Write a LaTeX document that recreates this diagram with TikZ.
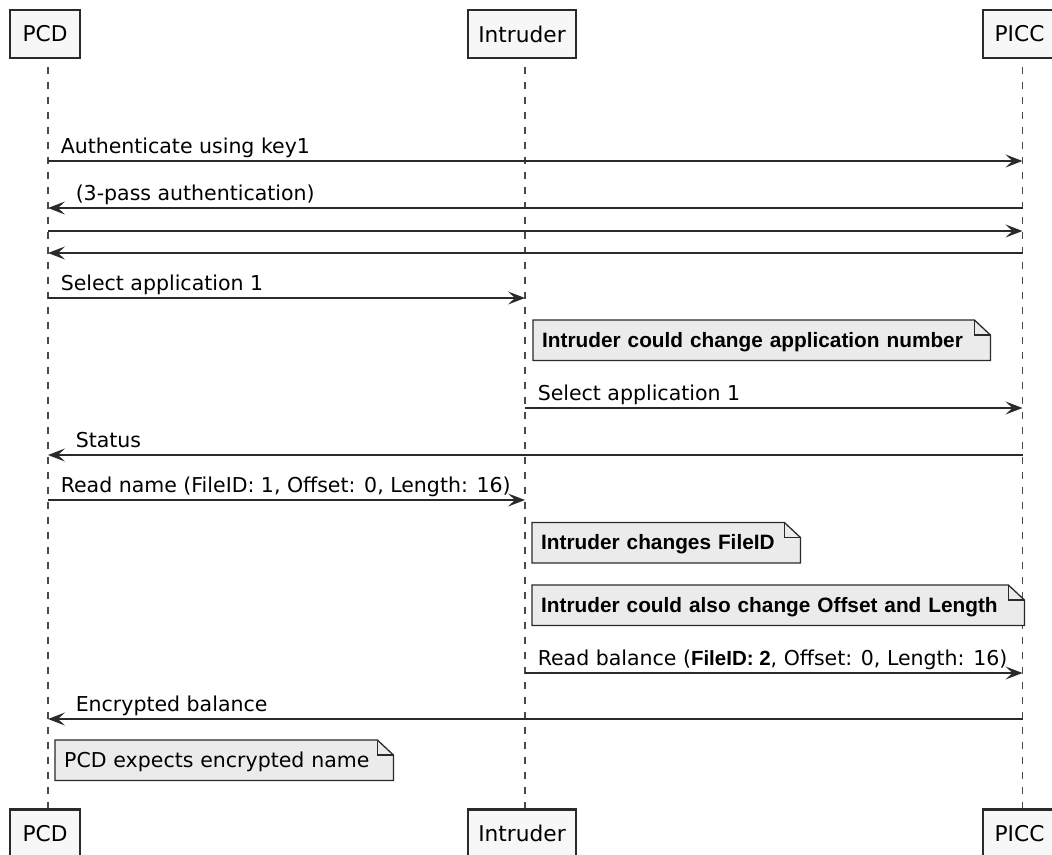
\documentclass[tikz,border=0pt]{standalone}
\usepackage{fontspec}
\setmainfont{DejaVu Sans}
\newfontfamily\notefont{Liberation Sans}
\usepackage{xcolor}
\usepackage{tikz}
\usetikzlibrary{arrows.meta, positioning, backgrounds}

\definecolor{ink}{HTML}{2A2A2A}
\definecolor{boxbg}{HTML}{F7F7F7}
\definecolor{notegray}{HTML}{EBEBEB}
\definecolor{lifegray}{HTML}{4A4A4A}

\newcommand{\notefold}[1]{%
  \begin{scope}[on background layer]
    \filldraw[notebg] (#1.south west) -- (#1.north west) -- ([xshift=-16pt]#1.north east)
      -- ([yshift=-15pt]#1.north east) -- (#1.south east) -- cycle;
    \draw[notebg, fill=none] ([xshift=-16pt]#1.north east) |- ([yshift=-15pt]#1.north east);
  \end{scope}}

\begin{document}
\begin{tikzpicture}[x=1pt, y=-1pt,
    font=\fontsize{20.5}{24}\selectfont,
    actor/.style={rectangle, draw=ink, fill=boxbg, line width=2.3pt, minimum height=48pt,
      inner xsep=0pt, font=\fontsize{21.7}{26}\selectfont},
    life/.style={draw=lifegray, line width=1.6pt, dash pattern=on 7.5pt off 7.5pt, dash phase=7.5pt},
    msg/.style={draw=ink, line width=1.5pt, -{Stealth[length=17pt, width=13pt, inset=7pt]}},
    lblr/.style={anchor=base west, xshift=12pt, yshift=7.5pt, inner sep=0pt},
    lbll/.style={anchor=base west, xshift=27pt, yshift=7.5pt, inner sep=0pt},
    note/.style={anchor=north west, inner xsep=9pt, inner ysep=0pt, text height=27pt,
      text depth=13pt, align=left, font=\notefont\bfseries\fontsize{20.8}{24}\selectfont},
    notebg/.style={draw=ink, fill=notegray, line width=1.3pt, line join=miter}
  ]
  \useasboundingbox (0,0) rectangle (1052,854);
  \clip (0,0) rectangle (1052,854);

  \node[actor, minimum width=70pt] (pcdT) at (45,34) {PCD};
  \node[actor, minimum width=108pt, right=385.7pt of pcdT] (intT) {Intruder};
  \node[actor, minimum width=73pt, right=404.7pt of intT] (piccT) {PICC};
  \node[actor, minimum width=70pt, below=749.2pt of pcdT] (pcdB) {PCD};
  \node[actor, minimum width=108pt, below=749.2pt of intT] (intB) {Intruder};
  \node[actor, minimum width=73pt, below=749.2pt of piccT] (piccB) {PICC};

  \coordinate (pcdL) at ([xshift=3pt]pcdT.south);
  \coordinate (intL) at ([xshift=3pt]intT.south);
  \coordinate (piccL) at ([xshift=3pt]piccT.south);

  \begin{scope}[on background layer]
    \draw[life] (pcdL) -- ([xshift=3pt]pcdB.north);
    \draw[life] (intL) -- ([xshift=3pt]intB.north);
    \draw[life] (piccL) -- ([xshift=3pt]piccB.north);
  \end{scope}

  \coordinate (m1) at (0,161);
  \coordinate (m2) at (0,208);
  \coordinate (m3) at (0,231);
  \coordinate (m4) at (0,253);
  \coordinate (m5) at (0,298);
  \coordinate (m6) at (0,408);
  \coordinate (m7) at (0,455);
  \coordinate (m8) at (0,500);
  \coordinate (m9) at (0,673);
  \coordinate (m10) at (0,719);

  \draw[msg] (pcdL |- m1) -- (piccL |- m1) node[lblr, pos=0] (t1) {Authenticate using key1};
  \draw[msg] (piccL |- m2) -- (pcdL |- m2) node[lbll, pos=1] (t2) {(3-pass authentication)};
  \draw[msg] (pcdL |- m3) -- (piccL |- m3);
  \draw[msg] (piccL |- m4) -- (pcdL |- m4);
  \draw[msg] (pcdL |- m5) -- (intL |- m5) node[lblr, pos=0] (t5) {Select application 1};

  \node[note, text width=439pt] (n1) at (533,320) {Intruder could change application number};
  \notefold{n1}

  \draw[msg] (intL |- m6) -- (piccL |- m6) node[lblr, pos=0] (t6) {Select application 1};
  \draw[msg] (piccL |- m7) -- (pcdL |- m7) node[lbll, pos=1] (t7) {Status};
  \draw[msg] (pcdL |- m8) -- (intL |- m8) node[lblr, pos=0] (t8) {Read name (FileID: 1, Offset: 0, Length: 16)};

  \node[note, text width=250pt] (n2) at (532,522.5) {Intruder changes FileID};
  \notefold{n2}
  \node[note, text width=474pt] (n3) at (532,585) {Intruder could also change Offset and Length};
  \notefold{n3}

  \draw[msg] (intL |- m9) -- (piccL |- m9) node[lblr, pos=0] (t9)
    {Read balance ({\notefont\bfseries FileID: 2}, Offset: 0, Length: 16)};
  \draw[msg] (piccL |- m10) -- (pcdL |- m10) node[lbll, pos=1] (t10) {Encrypted balance};

  \node[note, text width=320pt, font=\fontsize{20.5}{24}\selectfont] (n4) at (55,740) {PCD expects encrypted name};
  \notefold{n4}
\end{tikzpicture}
\end{document}
